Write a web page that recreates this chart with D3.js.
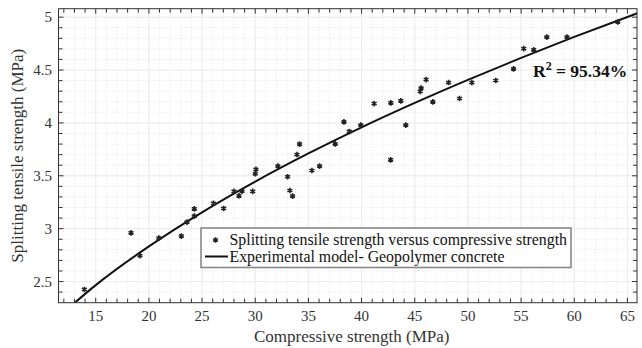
<!DOCTYPE html>
<html>
<head>
<meta charset="utf-8">
<script src="https://cdn.jsdelivr.net/npm/d3@7"></script>
<style>
  html, body { margin: 0; padding: 0; background: #fff; }
  svg { display: block; font-family: "Liberation Serif", "Times New Roman", serif; }
</style>
</head>
<body>
<svg id="chart" width="642" height="348"></svg>
<script>
// Measured points: compressive strength (MPa) vs splitting tensile strength (MPa)
const compressive = [13.93, 18.32, 19.16, 20.94, 23.05, 23.58, 24.27, 24.27, 26.07, 27.03,
  28.0, 28.47, 28.75, 29.76, 30.0, 30.07, 32.13, 33.04, 33.26, 33.51,
  33.92, 34.17, 35.33, 36.05, 37.52, 38.34, 38.84, 39.93, 41.18, 42.73,
  42.75, 43.69, 44.16, 45.51, 45.60, 46.07, 46.70, 48.18, 49.21, 50.37,
  52.62, 54.29, 55.25, 56.19, 57.42, 59.32, 64.09];
const tensile = [2.425, 2.961, 2.744, 2.911, 2.930, 3.062, 3.119, 3.188, 3.240, 3.191,
  3.352, 3.311, 3.355, 3.352, 3.519, 3.560, 3.592, 3.491, 3.361, 3.308,
  3.701, 3.800, 3.550, 3.592, 3.802, 4.010, 3.919, 3.979, 4.183, 3.651,
  4.190, 4.209, 3.979, 4.297, 4.329, 4.410, 4.199, 4.382, 4.231, 4.382,
  4.401, 4.511, 4.703, 4.691, 4.811, 4.811, 4.956];

// Experimental model curve
const modelX = [13, 15, 20, 25, 30, 35, 40, 45, 50, 55, 60, 65, 66];
const modelY = [2.297, 2.466, 2.833, 3.155, 3.445, 3.711, 3.958, 4.189, 4.407, 4.615, 4.813, 5.002, 5.039];

const xTicks = [15, 20, 25, 30, 35, 40, 45, 50, 55, 60, 65];
const yTicks = [2.5, 3, 3.5, 4, 4.5, 5];
const xDomain = [11.5, 65.9];
const yDomain = [2.3, 5.08];

const legendLabels = ["Splitting tensile strength versus compressive strength",
                      "Experimental model- Geopolymer concrete"];
const annotation = { base: "R", sup: "2", rest: " = 95.34%" };

const svg = d3.select("#chart");
const L = 58.5, R = 637, T = 8.7, B = 302.7;
const x = d3.scaleLinear().domain(xDomain).range([L, R]);
const y = d3.scaleLinear().domain(yDomain).range([B, T]);

// minor ticks
const xMinor = d3.range(12, 66, 1);
const yMinor = d3.range(23, 51, 1).map(v => +(v / 10).toFixed(1));

const grid = svg.append("g");
grid.selectAll(".gx").data(xMinor).join("line")
  .attr("x1", d => x(d)).attr("x2", d => x(d)).attr("y1", T).attr("y2", B)
  .attr("stroke", "#d9d9d9").attr("stroke-width", 0.7).attr("stroke-dasharray", "1,2");
grid.selectAll(".gy").data(yMinor).join("line")
  .attr("y1", d => y(d)).attr("y2", d => y(d)).attr("x1", L).attr("x2", R)
  .attr("stroke", "#d9d9d9").attr("stroke-width", 0.7).attr("stroke-dasharray", "1,2");
grid.selectAll(".mx").data(xTicks).join("line")
  .attr("x1", d => x(d)).attr("x2", d => x(d)).attr("y1", T).attr("y2", B)
  .attr("stroke", "#ececec").attr("stroke-width", 1);
grid.selectAll(".my").data(yTicks).join("line")
  .attr("y1", d => y(d)).attr("y2", d => y(d)).attr("x1", L).attr("x2", R)
  .attr("stroke", "#ececec").attr("stroke-width", 1);

// model curve
svg.append("clipPath").attr("id", "clip").append("rect")
  .attr("x", L).attr("y", T).attr("width", R - L).attr("height", B - T);
const line = d3.line().x(d => x(d[0])).y(d => y(d[1])).curve(d3.curveMonotoneX);
svg.append("path").datum(modelX.map((v, i) => [v, modelY[i]]))
  .attr("d", line).attr("fill", "none").attr("stroke", "#111").attr("stroke-width", 2)
  .attr("clip-path", "url(#clip)");

// markers
const star = d3.symbol().type(d3.symbolAsterisk).size(22);
svg.append("g").selectAll("path").data(compressive.map((v, i) => [v, tensile[i]])).join("path")
  .attr("d", star).attr("transform", d => `translate(${x(d[0])},${y(d[1])})`)
  .attr("fill", "none").attr("stroke", "#222").attr("stroke-width", 1.6);

// axes box
const axisG = svg.append("g").attr("stroke", "#333").attr("stroke-width", 1);
axisG.append("rect").attr("x", L).attr("y", T).attr("width", R - L).attr("height", B - T)
  .attr("fill", "none").attr("stroke", "#333");
const xAllTicks = xMinor.filter(v => v > xDomain[0] && v < xDomain[1]);
const yAllTicks = yMinor.filter(v => v > yDomain[0] && v < yDomain[1]);
xAllTicks.forEach(v => {
  const len = xTicks.includes(v) ? 5 : 4;
  axisG.append("line").attr("x1", x(v)).attr("x2", x(v)).attr("y1", B).attr("y2", B - len);
  axisG.append("line").attr("x1", x(v)).attr("x2", x(v)).attr("y1", T).attr("y2", T + len);
});
yAllTicks.forEach(v => {
  const len = yTicks.some(t => Math.abs(t - v) < 1e-9) ? 5 : 4;
  axisG.append("line").attr("y1", y(v)).attr("y2", y(v)).attr("x1", L).attr("x2", L + len);
  axisG.append("line").attr("y1", y(v)).attr("y2", y(v)).attr("x1", R).attr("x2", R - len);
});

// tick labels
svg.append("g").selectAll("text").data(xTicks).join("text")
  .attr("x", d => x(d)).attr("y", 321).attr("text-anchor", "middle")
  .attr("font-size", 15).attr("fill", "#333").text(d => d);
svg.append("g").selectAll("text").data(yTicks).join("text")
  .attr("x", 52).attr("y", d => y(d) + 5).attr("text-anchor", "end")
  .attr("font-size", 15).attr("fill", "#333").text(d => d);

// axis labels
svg.append("text").attr("x", (L + R) / 2 + 4).attr("y", 342).attr("text-anchor", "middle")
  .attr("font-size", 17).attr("fill", "#333").text("Compressive strength (MPa)");
svg.append("text").attr("transform", `translate(23,${(T + B) / 2}) rotate(-90)`)
  .attr("text-anchor", "middle").attr("font-size", 17).attr("fill", "#333")
  .text("Splitting tensile strength (MPa)");

// legend
const lg = svg.append("g");
lg.append("rect").attr("x", 201).attr("y", 228).attr("width", 370).attr("height", 39.5)
  .attr("fill", "#fff").attr("stroke", "#888").attr("stroke-width", 1.6);
lg.append("path").attr("d", star).attr("transform", "translate(215.5,240)")
  .attr("fill", "none").attr("stroke", "#222").attr("stroke-width", 1.6);
lg.append("text").attr("x", 229.5).attr("y", 244.5).attr("font-size", 15.85).attr("fill", "#111")
  .text(legendLabels[0]);
lg.append("line").attr("x1", 205).attr("x2", 228).attr("y1", 256.5).attr("y2", 256.5)
  .attr("stroke", "#111").attr("stroke-width", 2);
lg.append("text").attr("x", 229.5).attr("y", 261.5).attr("font-size", 15.85).attr("fill", "#111")
  .text(legendLabels[1]);

// annotation
const ann = svg.append("text").attr("x", 533).attr("y", 77).attr("font-size", 17.5)
  .attr("font-weight", "bold").attr("fill", "#111");
ann.append("tspan").text(annotation.base);
ann.append("tspan").attr("dy", -7).attr("font-size", 12).text(annotation.sup);
ann.append("tspan").attr("dy", 7).text(annotation.rest);
</script>
</body>
</html>
